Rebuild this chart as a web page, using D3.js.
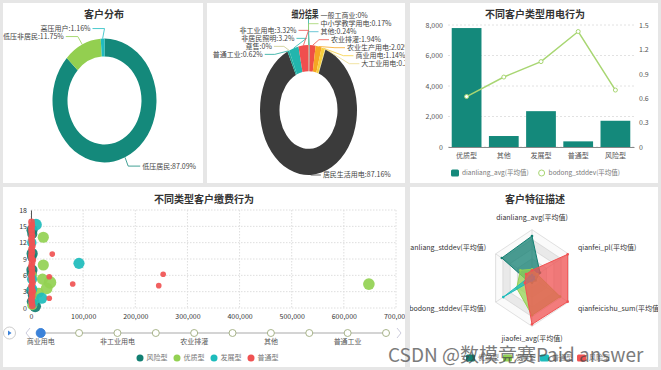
<!DOCTYPE html>
<html>
<head>
<meta charset="utf-8">
<script src="https://cdn.jsdelivr.net/npm/d3@7"></script>
<style>
  body { margin: 0; background: #e6e6e6; }
  svg { display: block; font-family: "Noto Sans CJK SC", "Noto Sans", sans-serif; }
</style>
</head>
<body>
<svg id="chart" width="661" height="370"></svg>
<script>
// ---- Data ----
const custNames = ["低压居民", "低压非居民", "高压用户"];
const custShare = [87.09, 11.75, 1.16];
const custColors = ["#14897b", "#93cf50", "#1fbcc0"];

const segNames = ["一般工商业", "中小学教学用电", "其他", "农业排灌", "农业生产用电", "商业用电",
  "大工业用电", "居民生活用电", "普通工业", "趸售", "非居民照明", "非工业用电"];
const segShare = [0, 0.17, 0.24, 1.94, 2.02, 1.14, 0.21, 87.16, 0.62, 0, 3.2, 3.32];
const segColors = ["#2ab3a6", "#9fd36a", "#46b8c9", "#ef4f45", "#f5a623", "#f7cf3e",
  "#eedc8a", "#3b3b3b", "#1fa89a", "#c9c98c", "#22b5ad", "#f04e4e"];

const typeNames = ["优质型", "其他", "发展型", "普通型", "风险型"];
const dianliangAvg = [7800, 720, 2350, 370, 1720];
const bodongStd = [0.62, 0.86, 1.05, 1.42, 0.70];
const rightTicks = [0, 0.3, 0.6, 0.9, 1.2, 1.5];

const scatterNames = ["风险型", "优质型", "发展型", "普通型"];
const scatterColors = ["#127f72", "#93d152", "#1dbcbc", "#f05252"];
const scatterYTicks = [0, 3, 6, 9, 12, 15, 18];
// [缴费金额, 次数, 气泡大小]
const riskBubbles = [[2000, 14.3, 55], [2500, 13.6, 45], [2200, 10.0, 55], [1500, 9.4, 40], [1800, 7.0, 55],
  [1200, 6.4, 45], [1000, 3.2, 50], [1500, 1.2, 45], [8000, 0.3, 60], [3000, 2.3, 40]];
const goodBubbles = [[23600, 13.0, 55], [23600, 7.9, 55], [36400, 4.7, 70], [22000, 5.3, 55], [30000, 3.6, 60],
  [15000, 2.8, 45], [6000, 1.5, 45], [2500, 0.5, 45], [648000, 4.4, 60], [3000, 6.0, 35]];
const devBubbles = [[9600, 15.3, 60], [92000, 8.2, 55], [20500, 1.8, 55], [1500, 12.0, 40], [2000, 5.3, 45],
  [2500, 3.5, 45], [4000, 0.9, 40]];
const normalBubbles = [[40800, 9.9, 14], [35000, 5.75, 14], [80000, 4.4, 14], [253500, 6.2, 14], [245000, 4.1, 14],
  [35000, 1.8, 14], [4500, 8.8, 14], [4000, 3.0, 16],
  [1000, 15.8, 20], [1500, 15.2, 20], [800, 14.6, 20], [1200, 14.0, 20], [1800, 13.3, 20], [900, 12.7, 20],
  [1500, 12.1, 20], [2500, 11.4, 20], [1000, 10.8, 20], [1600, 10.2, 20], [700, 9.6, 20], [1300, 9.0, 20],
  [2000, 8.3, 20], [900, 7.7, 20], [1500, 7.1, 20], [2200, 6.5, 20], [1000, 5.9, 20], [1700, 5.2, 20],
  [2800, 4.6, 20], [1100, 4.0, 20], [1900, 3.4, 20], [1200, 2.8, 20], [2400, 2.2, 20], [1000, 1.6, 20],
  [1600, 1.0, 20], [2500, 0.4, 20]];
const timelineNames = ["商业用电", "大工业用电", "非工业用电", "非居民照明", "农业排灌", "农业生产用电",
  "其他", "中小学教学用电", "普通工业", "居民生活用电"];

const radarAxes = ["dianliang_avg(平均值)", "qianfei_pl(平均值)", "qianfeicishu_sum(平均值)",
  "jiaofei_avg(平均值)", "bodong_stddev(平均值)", "dianliang_stddev(平均值)"];
const radarNames = ["优质型", "发展型", "普通型", "风险型"];
const radarColors = ["#127f72", "#93d152", "#1dbcbc", "#f05252"];
const radarValues = [
  [0.87, 0.22, 0.10, 0.10, 0.12, 0.83],
  [0.18, 0.15, 0.77, 0.77, 0.42, 0.32],
  [0.06, 0.05, 0.05, 0.05, 0.79, 0.06],
  [0.16, 0.98, 0.98, 0.96, 0.20, 0.16]
];

// ---- Setup ----
const svg = d3.select("#chart");
const defs = svg.append("defs");
const FONT = '"Noto Sans CJK SC","Noto Sans",sans-serif';

function panel(id, x, y, w, h) {
  defs.append("clipPath").attr("id", "clip-" + id)
    .append("rect").attr("x", x).attr("y", y).attr("width", w).attr("height", h);
  svg.append("rect").attr("x", x).attr("y", y).attr("width", w).attr("height", h).attr("fill", "#fff");
  return svg.append("g").attr("clip-path", `url(#clip-${id})`);
}

function title(g, text, x, y, sx = 1) {
  g.append("text")
    .attr("transform", `translate(${x},${y}) scale(${sx},1)`)
    .attr("text-anchor", "middle")
    .attr("font-size", 10).attr("font-weight", "bold").attr("fill", "#333")
    .text(text);
}

// horizontal legend laid out from measured text widths
function legend(g, items, x, y, opts) {
  const lg = g.append("g").attr("transform", `translate(${x},${y})`);
  let cur = 0;
  items.forEach(it => {
    const gi = lg.append("g").attr("transform", `translate(${cur},0)`);
    it.icon(gi);
    const t = gi.append("text").attr("x", opts.iconW + 3).attr("dy", "0.35em")
      .attr("font-size", opts.fs).attr("fill", "#777").text(it.label);
    cur += opts.iconW + 3 + t.node().getComputedTextLength() + opts.gap;
  });
}

// donut drawn as ellipse (k = vertical stretch) with echarts-like leader labels
function donut(g, o) {
  const pie = d3.pie().sort(null).value(d => d.v);
  const arcs = pie(o.names.map((n, i) => ({ n, v: o.values[i], c: o.colors[i] })));
  const arc = d3.arc().innerRadius(o.r0).outerRadius(o.r);
  g.append("g")
    .attr("transform", `translate(${o.cx},${o.cy}) scale(1,${o.k})`)
    .selectAll("path").data(arcs).join("path")
    .attr("d", arc).attr("fill", d => d.data.c);

  const pt = (r, a) => [o.cx + r * Math.sin(a), o.cy - r * o.k * Math.cos(a)];
  const R = o.r + o.len1;
  const labels = arcs.map(d => {
    const a = (d.startAngle + d.endAngle) / 2;
    const side = Math.sin(a) >= -1e-9 && a < Math.PI * 1.999 ? 1 : -1;
    const p1 = pt(R, a);
    const clamped = p1[1] > o.maxY;
    return { d, a, side, p0: pt(o.r, a), p1, clamped, y: Math.min(p1[1], o.maxY) };
  });
  [1, -1].forEach(s => {
    const L = labels.filter(l => l.side === s).sort((a, b) => a.y - b.y);
    for (let it = 0; it < 300; it++) {
      for (let i = 0; i < L.length - 1; i++) {
        const gap = L[i + 1].y - L[i].y;
        if (gap < o.gap) {
          const m = (o.gap - gap) / 2;
          L[i].y -= m; L[i + 1].y += m;
        }
      }
    }
  });
  labels.forEach(l => {
    const dy = (l.y - o.cy) / o.k;
    const x1 = l.clamped ? l.p1[0] : o.cx + l.side * Math.sqrt(Math.max(0, R * R - dy * dy));
    const x2 = x1 + l.side * o.len2;
    g.append("polyline")
      .attr("points", [l.p0, [x1, l.y], [x2, l.y]].map(p => p.join(",")).join(" "))
      .attr("fill", "none").attr("stroke", l.d.data.c).attr("stroke-width", 0.8);
    g.append("text")
      .attr("x", x2 + l.side * 2).attr("y", l.y).attr("dy", "0.35em")
      .attr("text-anchor", l.side > 0 ? "start" : "end")
      .attr("font-size", 7).attr("fill", "#444")
      .text(`${l.d.data.n}:${l.d.data.v}%`);
  });
}

// ---- Panel 1: 客户分布 ----
const g1 = panel("p1", 3, 3, 200, 180);
title(g1, "客户分布", 104, 18);
donut(g1, { names: custNames, values: custShare, colors: custColors,
  cx: 104.5, cy: 100.5, r: 52, r0: 37, k: 1.19, len1: 8, len2: 12, gap: 8, maxY: 175 });

// ---- Panel 2: 细分结果 ----
const g2 = panel("p2", 207, 3, 198, 180);
donut(g2, { names: segNames, values: segShare, colors: segColors,
  cx: 308.5, cy: 110, r: 48.5, r0: 29, k: 1.34, len1: 5, len2: 10, gap: 8, maxY: 175 });
title(g2, "细分结果", 305, 18, 0.68);

// ---- Panel 3: 不同客户类型用电行为 ----
const g3 = panel("p3", 410, 3, 248, 180);
title(g3, "不同客户类型用电行为", 535, 18);
{
  const x = d3.scaleBand().domain(typeNames).range([448, 634]).paddingInner(0.2).paddingOuter(0.1);
  const y = d3.scaleLinear().domain([0, 8000]).range([147, 25]);
  const y2 = d3.scaleLinear().domain([0, 1.5]).range([147, 25]);

  g3.append("g").selectAll("line").data(y.ticks(4)).join("line")
    .attr("x1", 448).attr("x2", 634).attr("y1", d => y(d)).attr("y2", d => y(d))
    .attr("stroke", "#e2e2e2").attr("stroke-dasharray", "2,2");

  g3.selectAll("rect.bar").data(dianliangAvg).join("rect")
    .attr("class", "bar")
    .attr("x", (d, i) => x(typeNames[i])).attr("width", x.bandwidth())
    .attr("y", d => y(d)).attr("height", d => y(0) - y(d))
    .attr("fill", "#14897b");

  const ax = g3.append("g").attr("transform", "translate(0,147)")
    .call(d3.axisBottom(x).tickSize(0).tickPadding(6));
  ax.select(".domain").attr("stroke", "#888");
  const ay = g3.append("g").attr("transform", "translate(448,0)")
    .call(d3.axisLeft(y).ticks(4).tickFormat(d3.format(",")).tickSize(0).tickPadding(5));
  ay.select(".domain").remove();
  const ay2 = g3.append("g").attr("transform", "translate(634,0)")
    .call(d3.axisRight(y2).tickValues(rightTicks).tickFormat(d => d === 0 ? "0" : d.toFixed(1)).tickSize(0).tickPadding(5));
  ay2.select(".domain").remove();
  [ax, ay, ay2].forEach(a => a.selectAll("text").attr("font-size", 7).attr("fill", "#555").attr("font-family", FONT));

  const line = d3.line().x((d, i) => x(typeNames[i]) + x.bandwidth() / 2).y(d => y2(d));
  g3.append("path").datum(bodongStd).attr("d", line)
    .attr("fill", "none").attr("stroke", "#a8d672").attr("stroke-width", 1.5);
  g3.selectAll("circle.pt").data(bodongStd).join("circle")
    .attr("class", "pt")
    .attr("cx", (d, i) => x(typeNames[i]) + x.bandwidth() / 2).attr("cy", d => y2(d))
    .attr("r", 2).attr("fill", "#fff").attr("stroke", "#a8d672").attr("stroke-width", 1);

  legend(g3, [
    { label: "dianliang_avg(平均值)", icon: gi => gi.append("rect").attr("y", -3.5).attr("width", 8).attr("height", 7).attr("rx", 1.5).attr("fill", "#14897b") },
    { label: "bodong_stddev(平均值)", icon: gi => gi.append("circle").attr("cx", 4).attr("r", 3).attr("fill", "#fff").attr("stroke", "#a8d672") }
  ], 451, 173, { iconW: 8, fs: 6.5, gap: 9 });
}

// ---- Panel 4: 不同类型客户缴费行为 ----
const g4 = panel("p4", 3, 187, 402, 180);
title(g4, "不同类型客户缴费行为", 204, 203);
{
  const x = d3.scaleLinear().domain([0, 700000]).range([31, 396]);
  const y = d3.scaleLinear().domain([0, 18]).range([308, 210]);
  const r = d3.scaleSqrt().domain([0, 70]).range([0, 6.3]);

  g4.append("g").selectAll("line").data(x.ticks(7)).join("line")
    .attr("x1", d => x(d)).attr("x2", d => x(d)).attr("y1", 210).attr("y2", 308)
    .attr("stroke", "#dedede").attr("stroke-dasharray", "1.5,1.5");
  g4.append("g").selectAll("line").data(scatterYTicks).join("line")
    .attr("x1", 31).attr("x2", 396).attr("y1", d => y(d)).attr("y2", d => y(d))
    .attr("stroke", "#dedede").attr("stroke-dasharray", "1.5,1.5");

  const ax = g4.append("g").attr("transform", "translate(0,308)")
    .call(d3.axisBottom(x).ticks(7).tickFormat(d3.format(",")).tickSize(0).tickPadding(6));
  ax.select(".domain").remove();
  const ay = g4.append("g").attr("transform", "translate(31,0)")
    .call(d3.axisLeft(y).tickValues(scatterYTicks).tickSize(0).tickPadding(4));
  ay.select(".domain").attr("stroke", "#555");
  [ax, ay].forEach(a => a.selectAll("text").attr("font-size", 7).attr("fill", "#333").attr("font-family", FONT));

  [riskBubbles, goodBubbles, devBubbles, normalBubbles].forEach((series, si) => {
    g4.append("g").selectAll("circle").data(series).join("circle")
      .attr("cx", d => x(d[0])).attr("cy", d => y(d[1])).attr("r", d => r(d[2]))
      .attr("fill", scatterColors[si]).attr("opacity", 0.92);
  });

  // timeline
  const t = d3.scalePoint().domain(timelineNames).range([40.7, 386]);
  const ty = 333;
  g4.append("line").attr("x1", 40).attr("x2", 390).attr("y1", ty).attr("y2", ty)
    .attr("stroke", "#aaa").attr("stroke-width", 1.2);
  g4.append("g").selectAll("circle").data(timelineNames).join("circle")
    .attr("cx", d => t(d)).attr("cy", ty)
    .attr("r", (d, i) => i === 0 ? 4.5 : 3.5)
    .attr("fill", (d, i) => i === 0 ? "#3b82d9" : "#fff")
    .attr("stroke", (d, i) => i === 0 ? "#3b82d9" : "#a8b48a").attr("stroke-width", 1);
  g4.append("g").selectAll("text").data(timelineNames.filter((d, i) => i % 2 === 0)).join("text")
    .attr("x", d => t(d)).attr("y", ty + 11).attr("text-anchor", "middle")
    .attr("font-size", 7).attr("fill", "#555").text(d => d);
  g4.append("circle").attr("cx", 9.5).attr("cy", ty).attr("r", 6).attr("fill", "#fff").attr("stroke", "#ccc");
  g4.append("path").attr("d", `M8,${ty - 2.5}L11.5,${ty}L8,${ty + 2.5}Z`).attr("fill", "#3b82d9");
  g4.append("path").attr("d", `M30,${ty - 5}L26,${ty}L30,${ty + 5}`).attr("fill", "none").attr("stroke", "#ccd");
  g4.append("path").attr("d", `M397,${ty - 5}L401,${ty}L397,${ty + 5}`).attr("fill", "none").attr("stroke", "#ccd");

  legend(g4, scatterNames.map((n, i) => ({
    label: n, icon: gi => gi.append("circle").attr("cx", 3.5).attr("r", 3.5).attr("fill", scatterColors[i])
  })), 136.5, 358, { iconW: 7, fs: 7, gap: 6 });
}

// ---- Panel 5: 客户特征描述 ----
const g5 = panel("p5", 410, 187, 248, 180);
title(g5, "客户特征描述", 535, 203);
{
  const cx = 532, cy = 278, R = 42, k = 1.15, levels = 5, nameGap = 11;
  const n = radarAxes.length;
  const ang = i => (i / n) * 2 * Math.PI;
  const rs = d3.scaleLinear().domain([0, 1]).range([0, R]);
  const pt = (v, i) => [cx + rs(v) * Math.sin(ang(i)), cy - rs(v) * k * Math.cos(ang(i))];
  const ring = v => radarAxes.map((a, i) => pt(v, i));

  for (let l = levels; l >= 1; l--) {
    g5.append("polygon").attr("points", ring(l / levels).map(p => p.join(",")).join(" "))
      .attr("fill", l % 2 === 0 ? "#e9e9e9" : "#fafafa").attr("stroke", "#ccc").attr("stroke-width", 0.6);
  }
  radarAxes.forEach((a, i) => {
    const p = pt(1, i);
    g5.append("line").attr("x1", cx).attr("y1", cy).attr("x2", p[0]).attr("y2", p[1])
      .attr("stroke", "#ccc").attr("stroke-width", 0.6);
    const q = pt(1 + nameGap / R, i);
    const s = Math.sin(ang(i));
    g5.append("text").attr("x", q[0]).attr("y", q[1]).attr("dy", "0.35em")
      .attr("text-anchor", Math.abs(s) < 0.01 ? "middle" : (s > 0 ? "start" : "end"))
      .attr("font-size", 7).attr("fill", "#333").text(a);
  });

  radarValues.forEach((vals, si) => {
    const pts = vals.map((v, i) => pt(v, i));
    g5.append("polygon").attr("points", pts.map(p => p.join(",")).join(" "))
      .attr("fill", radarColors[si]).attr("fill-opacity", 0.75)
      .attr("stroke", radarColors[si]).attr("stroke-width", 1);
    g5.append("g").selectAll("circle").data(pts).join("circle")
      .attr("cx", p => p[0]).attr("cy", p => p[1]).attr("r", 1.3).attr("fill", radarColors[si]);
  });

  legend(g5, radarNames.map((nm, i) => ({
    label: nm, icon: gi => gi.append("rect").attr("y", -3.5).attr("width", 9).attr("height", 7).attr("rx", 1.5).attr("fill", radarColors[i])
  })), 466, 358, { iconW: 9, fs: 7, gap: 4 });
}

// watermark
svg.append("text").attr("x", 388).attr("y", 362)
  .attr("font-size", 19).attr("fill", "#444").attr("opacity", 0.7)
  .text("CSDN @数模竞赛Paid answer");
</script>
</body>
</html>
